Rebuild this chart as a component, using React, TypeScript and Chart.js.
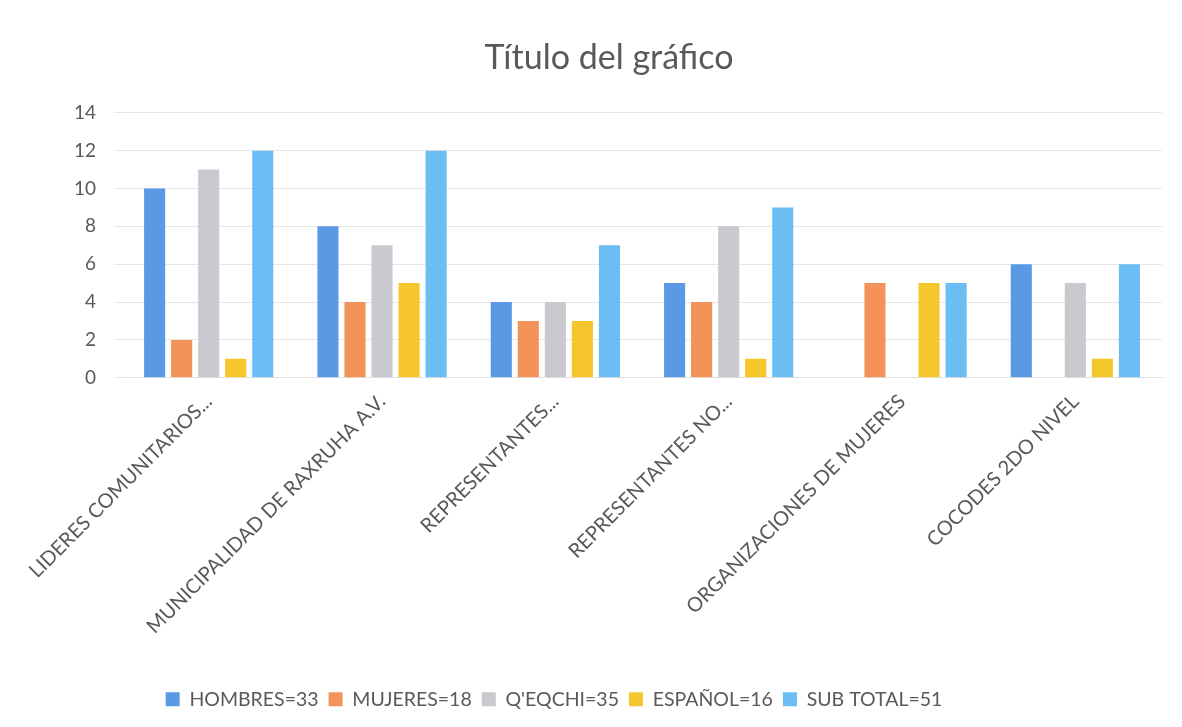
import React, { useEffect, useRef } from "react";
import { Chart, registerables } from "chart.js";

Chart.register(...registerables);

const categories = [
  "LIDERES COMUNITARIOS...",
  "MUNICIPALIDAD DE RAXRUHA A.V.",
  "REPRESENTANTES...",
  "REPRESENTANTES NO...",
  "ORGANIZACIONES DE MUJERES",
  "COCODES 2DO NIVEL",
];

const seriesNames = ["HOMBRES=33", "MUJERES=18", "Q'EQCHI=35", "ESPAÑOL=16", "SUB TOTAL=51"];

const hombres = [10, 8, 4, 5, 0, 6];
const mujeres = [2, 4, 3, 4, 5, 0];
const qeqchi = [11, 7, 4, 8, 0, 5];
const espanol = [1, 5, 3, 1, 5, 1];
const subTotal = [12, 12, 7, 9, 5, 6];

const seriesColors = ["#5A9AE4", "#F3935A", "#C9C9CF", "#F5C72C", "#6BBDF3"];

const yTicks = [0, 2, 4, 6, 8, 10, 12, 14];

const FONT = "Lato, 'Open Sans', sans-serif";

const legendShift = {
  id: "legendShift",
  afterLayout(chart: any) {
    const lg = chart.legend;
    if (lg) {
      lg.left -= 55;
      lg.right -= 55;
    }
  },
};

export default function App() {
  const ref = useRef<HTMLCanvasElement | null>(null);

  useEffect(() => {
    if (!ref.current) return;
    const values = [hombres, mujeres, qeqchi, espanol, subTotal];
    const chart = new Chart(ref.current, {
      type: "bar",
      data: {
        labels: categories,
        datasets: values.map((v, i) => ({
          label: seriesNames[i],
          data: v,
          backgroundColor: seriesColors[i],
          borderWidth: 0,
          barPercentage: 0.78,
          categoryPercentage: 0.78,
        })),
      },
      plugins: [legendShift],
      options: {
        animation: false,
        responsive: true,
        maintainAspectRatio: false,
        layout: { padding: { left: 56, right: 20, top: 38, bottom: 8 } },
        plugins: {
          title: {
            display: true,
            text: "Título del gráfico",
            color: "#595959",
            font: { family: FONT, size: 34, weight: "normal" },
            padding: { top: 0, bottom: 34 },
          },
          legend: {
            position: "bottom",
            labels: {
              color: "#595959",
              font: { family: FONT, size: 19.5 },
              boxWidth: 14,
              boxHeight: 14,
              padding: 10,
            },
          },
          tooltip: { enabled: false },
        },
        scales: {
          x: {
            grid: { display: false },
            border: { display: true, color: "#E0E0E0" },
            afterFit: (scale: any) => {
              scale.height += 37;
            },
            ticks: {
              color: "#595959",
              font: { family: FONT, size: 20 },
              minRotation: 45,
              maxRotation: 45,
              autoSkip: false,
              padding: 4,
            },
          },
          y: {
            min: 0,
            max: 14,
            afterBuildTicks: (axis: any) => {
              axis.ticks = yTicks.map((v) => ({ value: v }));
            },
            grid: { color: "#E6E6E6" },
            border: { display: false },
            ticks: {
              color: "#595959",
              font: { family: FONT, size: 19 },
              padding: 18,
            },
          },
        },
      },
    });
    return () => chart.destroy();
  }, []);

  return (
    <div style={{ position: "fixed", left: 0, top: 0, width: 1182, height: 727, background: "#fff" }}>
      <canvas ref={ref} />
    </div>
  );
}
